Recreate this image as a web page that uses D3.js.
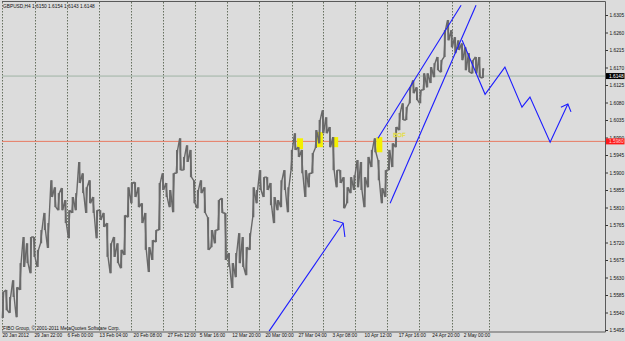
<!DOCTYPE html>
<html>
<head>
<meta charset="utf-8">
<script src="https://cdn.jsdelivr.net/npm/d3@7"></script>
<style>
body{margin:0;background:#dcdcdc;}
svg{display:block;font-family:"Liberation Sans",Arial,sans-serif;}
</style>
</head>
<body>
<script>
var WIDTH=625, HEIGHT=341
var plot={left:2, right:605.5, top:2, bottom:332}

// H4 bars (one column = a few bars)
var highs=[1.5593,1.5598,1.5580,1.5623,1.5605,1.5667,1.5734,1.5718,1.5734,1.5734,
1.5701,1.5752,1.5796,1.5770,1.5880,1.5862,1.5847,1.5860,1.5829,1.5803,
1.5837,1.5847,1.5927,1.5898,1.5862,1.5880,1.5837,1.5803,1.5803,1.5796,
1.5770,1.5718,1.5734,1.5718,1.5701,1.5790,1.5862,1.5873,1.5875,1.5862,
1.5821,1.5796,1.5708,1.5726,1.5752,1.5873,1.5898,1.5873,1.5855,1.5898,
1.5958,1.5988,1.5940,1.5970,1.5958,1.5880,1.5855,1.5880,1.5862,1.5785,
1.5752,1.5752,1.5829,1.5834,1.5796,1.5693,1.5667,1.5693,1.5744,1.5734,
1.5708,1.5744,1.5862,1.5855,1.5906,1.5888,1.5888,1.5873,1.5837,1.5829,
1.5880,1.5906,1.5862,1.5958,1.6001,1.5965,1.5958,1.5906,1.5898,1.5950,
1.6009,1.6035,1.6060,1.6042,1.6017,1.5991,1.5906,1.5906,1.5888,1.5862,
1.5888,1.5893,1.5932,1.5927,1.5888,1.5940,1.5958,1.5988,1.5932,1.5860,
1.5906,1.5958,1.5975,1.6017,1.6053,1.6078,1.6068,1.6119,1.6137,1.6119,
1.6112,1.6155,1.6155,1.6171,1.6181,1.6197,1.6189,1.6266,1.6292,1.6266,
1.6248,1.6240,1.6232,1.6222,1.6207,1.6189,1.6197,1.6197,1.6168]
var lows=[1.5526,1.5546,1.5539,1.5580,1.5528,1.5598,1.5657,1.5667,1.5641,1.5683,
1.5657,1.5718,1.5752,1.5706,1.5837,1.5811,1.5803,1.5803,1.5770,1.5731,
1.5796,1.5803,1.5873,1.5847,1.5796,1.5821,1.5796,1.5731,1.5778,1.5760,
1.5683,1.5641,1.5683,1.5667,1.5654,1.5688,1.5785,1.5821,1.5837,1.5811,
1.5770,1.5701,1.5644,1.5675,1.5721,1.5752,1.5855,1.5837,1.5811,1.5798,
1.5898,1.5906,1.5906,1.5927,1.5888,1.5821,1.5808,1.5847,1.5796,1.5701,
1.5708,1.5718,1.5752,1.5796,1.5675,1.5657,1.5603,1.5631,1.5667,1.5657,
1.5636,1.5701,1.5785,1.5821,1.5855,1.5837,1.5855,1.5816,1.5770,1.5803,
1.5811,1.5855,1.5798,1.5906,1.5958,1.5940,1.5898,1.5837,1.5862,1.5898,
1.5963,1.5975,1.6001,1.6001,1.5965,1.5906,1.5862,1.5873,1.5808,1.5821,
1.5847,1.5855,1.5862,1.5855,1.5811,1.5862,1.5914,1.5952,1.5880,1.5821,
1.5837,1.5906,1.5914,1.5965,1.6009,1.6035,1.6035,1.6078,1.6104,1.6086,
1.6078,1.6112,1.6119,1.6130,1.6145,1.6163,1.6158,1.6197,1.6240,1.6222,
1.6207,1.6215,1.6189,1.6163,1.6158,1.6155,1.6155,1.6145,1.6143]

var priceTicks=[1.6305,1.6260,1.6215,1.6170,1.6125,1.6080,1.6035,1.5990,1.5945,1.5900,
1.5855,1.5810,1.5765,1.5720,1.5675,1.5630,1.5585,1.5540,1.5495]
var dateLabels=['20 Jan 2012','29 Jan 22:00','6 Feb 00:00','13 Feb 04:00','20 Feb 08:00',
'27 Feb 12:00','5 Mar 16:00','12 Mar 20:00','20 Mar 00:00','27 Mar 04:00','3 Apr 08:00',
'10 Apr 12:00','17 Apr 16:00','24 Apr 20:00','2 May 00:00']
var dateIdx=[-0.3,8.9,18.4,27.6,37.4,47.2,56.4,65.8,75.3,84.8,94.6,103.8,113.6,123.3,132.3]
var gridIdx=[-0.3,9.2,18.4,27.6,36.8,46.0,55.2,64.4,73.6,83.1,92.0,101.2,110.4,119.6,129.0,139.7]

var lastPrice=1.6148, levelPrice=1.5980
var header='GBPUSD,H4  1.6150 1.6154 1.6143 1.6148'

// yellow marked bars at the 1.5980 level
var hlIdx=[85.4,91.1,95.5,108.2]
var hlHi=[1.5988,1.6004,1.5991,1.5991]
var hlLo=[1.5960,1.5965,1.5965,1.5952]

// hand drawn blue objects: [bar index, price]
var trendArrow=[[76.5,1.5492],[97.8,1.5770]]
var arrowHead1=[[94.9,1.5778],[97.8,1.5770],[98.3,1.5734]]
var chanUpper=[[107.8,1.5988],[131.7,1.6330]]
var chanLower=[[111.3,1.5821],[136.0,1.6330]]
var zigzag=[[132.0,1.6240],[138.6,1.6101],[144.3,1.6171],[149.2,1.6068],[151.5,1.6094],[157.3,1.5978],[162.4,1.6076]]
var arrowHead2=[[160.4,1.6068],[162.4,1.6076],[163.3,1.6056]]

var x=d3.scaleLinear().domain([0,highs.length-1]).range([3,483])
var y=d3.scaleLinear().domain([1.5495,1.6305]).range([330,15])

var svg=d3.select('body').append('svg')
	.attr('width',WIDTH)
	.attr('height',HEIGHT)

svg.append('rect').attr('width',WIDTH).attr('height',HEIGHT).attr('fill','#dcdcdc')

// grid
svg.append('g').selectAll('line').data(gridIdx)
	.enter().append('line')
	.attr('x1',function(d){return Math.round(x(d))+0.5})
	.attr('x2',function(d){return Math.round(x(d))+0.5})
	.attr('y1',plot.top).attr('y2',plot.bottom)
	.attr('stroke','#66705f')
	.attr('stroke-dasharray','1.5,1.5')

// price lines
svg.append('line')
	.attr('x1',plot.left).attr('x2',plot.right)
	.attr('y1',y(levelPrice)).attr('y2',y(levelPrice))
	.attr('stroke','#e87a62').attr('stroke-width',1)
svg.append('line')
	.attr('x1',plot.left).attr('x2',plot.right)
	.attr('y1',y(lastPrice)).attr('y2',y(lastPrice))
	.attr('stroke','#9fb3a4').attr('stroke-width',1)

// yellow marks
svg.append('g').selectAll('rect').data(hlIdx)
	.enter().append('rect')
	.attr('x',function(d){return x(d)-3})
	.attr('width',6)
	.attr('y',function(d,i){return y(hlHi[i])})
	.attr('height',function(d,i){return y(hlLo[i])-y(hlHi[i])})
	.attr('fill','#f4f000')

// bars: thin high-low strokes joined bar to bar so the series reads as one trace
var trace=[]
highs.forEach(function(h,i){
	var up=i<highs.length-1 ? highs[i+1]+lows[i+1]>h+lows[i] : true
	var a=up ? lows[i] : h, b=up ? h : lows[i]
	trace.push([x(i)-0.7,y(a)])
	trace.push([x(i)+0.7,y(b)])
})
svg.append('path')
	.attr('d',d3.line()(trace))
	.attr('fill','none')
	.attr('stroke','#686868')
	.attr('stroke-width',1.4)
	.attr('stroke-linejoin','bevel')
svg.append('g').selectAll('rect').data(highs)
	.enter().append('rect')
	.attr('x',function(d,i){return x(i)-0.9})
	.attr('width',1.8)
	.attr('y',function(d){return y(d)})
	.attr('height',function(d,i){return Math.max(1,y(lows[i])-y(d))})
	.attr('fill','#6a6a6a')

// blue objects
var line=d3.line().x(function(d){return x(d[0])}).y(function(d){return y(d[1])})
var blue=svg.append('g').attr('fill','none').attr('stroke','#1c1cff').attr('stroke-width',1.1)
;[trendArrow,arrowHead1,chanUpper,chanLower,zigzag,arrowHead2].forEach(function(p){
	blue.append('path').attr('d',line(p))
})

svg.append('text')
	.attr('x',x(112.2)).attr('y',y(1.5980)-4.5)
	.attr('font-size',6).attr('fill','#ffff60')
	.attr('stroke','#d8d040').attr('stroke-width',0.3)
	.text('BOF')

// frame
svg.append('path')
	.attr('d','M'+plot.left+','+(plot.top-0.5)+'H'+plot.right+'V'+plot.bottom+'H'+plot.left)
	.attr('fill','none').attr('stroke','#5a5a5a')

// right axis
var yAxis=d3.axisRight(y).tickValues(priceTicks).tickSize(2.5).tickPadding(1.5).tickFormat(d3.format('.4f'))
var ya=svg.append('g').attr('transform','translate('+plot.right+',0)').call(yAxis)
ya.select('.domain').remove()
ya.selectAll('line').attr('stroke','#333')
ya.selectAll('text').attr('font-size',4.8).attr('font-family','"Liberation Sans",Arial,sans-serif').attr('fill','#111')

// bottom axis
var xa=svg.append('g').attr('transform','translate(0,'+plot.bottom+')')
	.call(d3.axisBottom(x).tickValues(dateIdx).tickSize(0).tickPadding(2)
		.tickFormat(function(d,i){return dateLabels[i]}))
xa.select('.domain').remove()
xa.selectAll('text').attr('text-anchor','start').attr('font-size',4.8)
	.attr('font-family','"Liberation Sans",Arial,sans-serif').attr('fill','#111')

// price boxes
function box(p,bg,fg){
	svg.append('rect').attr('x',plot.right+0.5).attr('y',y(p)-3).attr('width',18.5).attr('height',6).attr('fill',bg)
	svg.append('text').attr('x',plot.right+3.5).attr('y',y(p)+1.7).attr('font-size',4.8).attr('fill',fg).text(d3.format('.4f')(p))
}
box(lastPrice,'#000','#fff')
box(levelPrice,'#ff1a1a','#ffd0d0')

svg.append('text').attr('x',3).attr('y',8).attr('font-size',4.8).attr('fill','#111').text(header)
svg.append('text').attr('x',3).attr('y',330).attr('font-size',4.8).attr('fill','#111')
	.text('FIBO Group, \u00a9 2001-2011 MetaQuotes Software Corp.')
</script>
</body>
</html>
